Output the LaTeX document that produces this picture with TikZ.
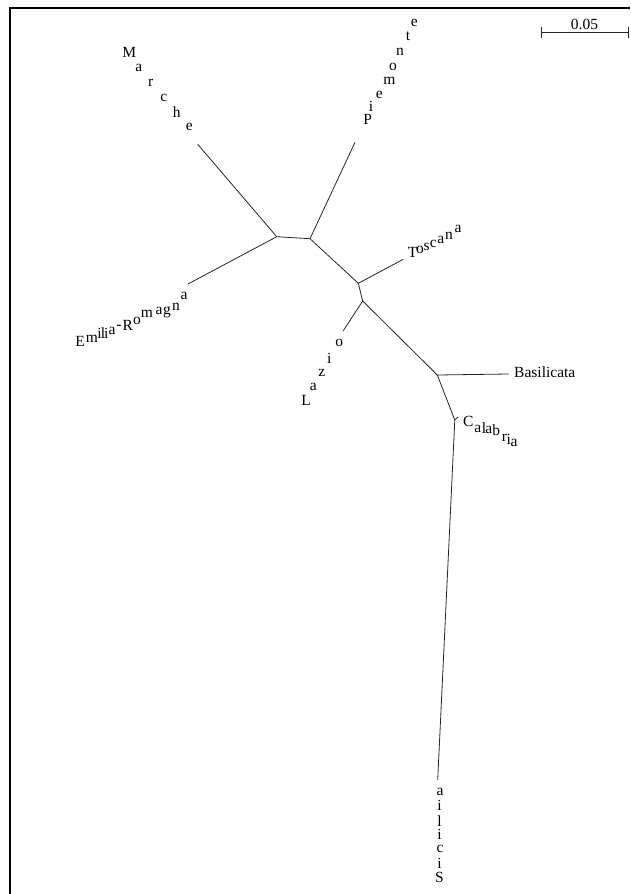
\documentclass[tikz,border=0pt]{standalone}
\usepackage{fontspec}
\setmainfont{Liberation Serif}
\usetikzlibrary{arrows.meta}

\begin{document}
\begin{tikzpicture}[x=1pt, y=-1pt,
    branch/.style={line width=0.8pt, black!85},
    lbl/.style={inner sep=0pt, font=\fontsize{15.5}{18}\selectfont},
    frame/.style={line width=2.6pt}]
\useasboundingbox (0,0) rectangle (630,894);

% frame
\coordinate (frTop) at (630,8);
\coordinate (frCorner) at (10,8);
\coordinate (frBottom) at (10,894);
\draw[frame] (frTop) -- (frCorner) -- (frBottom);

% scale bar
\coordinate (sbL) at (540.7,32.3);
\coordinate (sbR) at (628.3,32.3);
\draw[branch, {Bar[width=11pt]}-{Bar[width=11pt]}] (sbL) -- (sbR);
\node[lbl] (sbText) at (584.5,24.5) {0.05};

% inner nodes
\coordinate (nA) at (276.7,236.7);
\coordinate (nB) at (310,238.7);
\coordinate (nC) at (358.3,283.3);
\coordinate (nD) at (362.7,301);
\coordinate (nE) at (437.3,375);
\coordinate (nF) at (454.8,420);

% tips
\coordinate (marTip) at (197.7,144.3);
\coordinate (pieTip) at (355,142.3);
\coordinate (emiTip) at (188,284);
\coordinate (tosTip) at (403.3,259.3);
\coordinate (lazTip) at (343.3,330.7);
\coordinate (basTip) at (508.5,374);
\coordinate (calTip) at (458,417);
\coordinate (sicTip) at (437.7,780);

% branches
\draw[branch] (marTip) -- (nA);
\draw[branch] (emiTip) -- (nA);
\draw[branch] (nA) -- (nB);
\draw[branch] (pieTip) -- (nB);
\draw[branch] (nB) -- (nC);
\draw[branch] (tosTip) -- (nC);
\draw[branch] (nC) -- (nD);
\draw[branch] (lazTip) -- (nD);
\draw[branch] (nD) -- (nE);
\draw[branch] (basTip) -- (nE);
\draw[branch] (nE) -- (nF);
\draw[branch] (calTip) -- (nF);
\draw[branch] (nF) -- (sicTip);

% labels, letter by letter
\foreach \ch/\x/\y [count=\i] in {M/129.3/52.7, a/138.7/68.3, r/150.7/83.3,
    c/163.7/97.7, h/176.7/111.7, e/189.3/126.7}
  \node[lbl] (mar\i) at (\x,\y) {\ch};

\foreach \ch/\x/\y [count=\i] in {P/367.7/119, i/371/106.5, e/379.3/95,
    m/389.5/81, o/393/66.7, n/400/51.7, t/408/36.7, e/414.3/22.7}
  \node[lbl] (pie\i) at (\x,\y) {\ch};

\foreach \ch/\x/\y [count=\i] in {E/80/341.7, m/92/339.2, i/99.5/333.5,
    l/103/332.8, i/106.2/333.3, a/112/331, -/119/327.3, R/127.7/325.8,
    o/137/320.8, m/147/314, a/159/311, g/167/312, n/176/307, a/184/296.3}
  \node[lbl] (emi\i) at (\x,\y) {\ch};

\foreach \ch/\x/\y [count=\i] in {T/412.5/252.5, o/420/250, s/426.7/246.7,
    c/433.3/243.7, a/440.8/240.3, n/449/235.5, a/458/229}
  \node[lbl] (tos\i) at (\x,\y) {\ch};

\foreach \ch/\x/\y [count=\i] in {L/306/400, a/313.3/387.3, z/321.7/373.3,
    i/329.3/358.3, o/339.3/342.7}
  \node[lbl] (laz\i) at (\x,\y) {\ch};

\node[lbl, anchor=west] (bas) at (514,372) {Basilicata};

\foreach \ch/\x/\y [count=\i] in {C/468.3/421.7, a/477.8/429, l/484/427.7,
    a/488.7/429.7, b/496.3/430.3, r/504.5/437.5, i/508.8/439, a/514/443}
  \node[lbl] (cal\i) at (\x,\y) {\ch};

\foreach \ch/\x/\y [count=\i] in {S/439.5/877, i/439.5/863, c/440/849.3,
    i/439.5/834.5, l/439.5/821, i/439.5/805.5, a/440/791.7}
  \node[lbl] (sic\i) at (\x,\y) {\ch};
\end{tikzpicture}
\end{document}
